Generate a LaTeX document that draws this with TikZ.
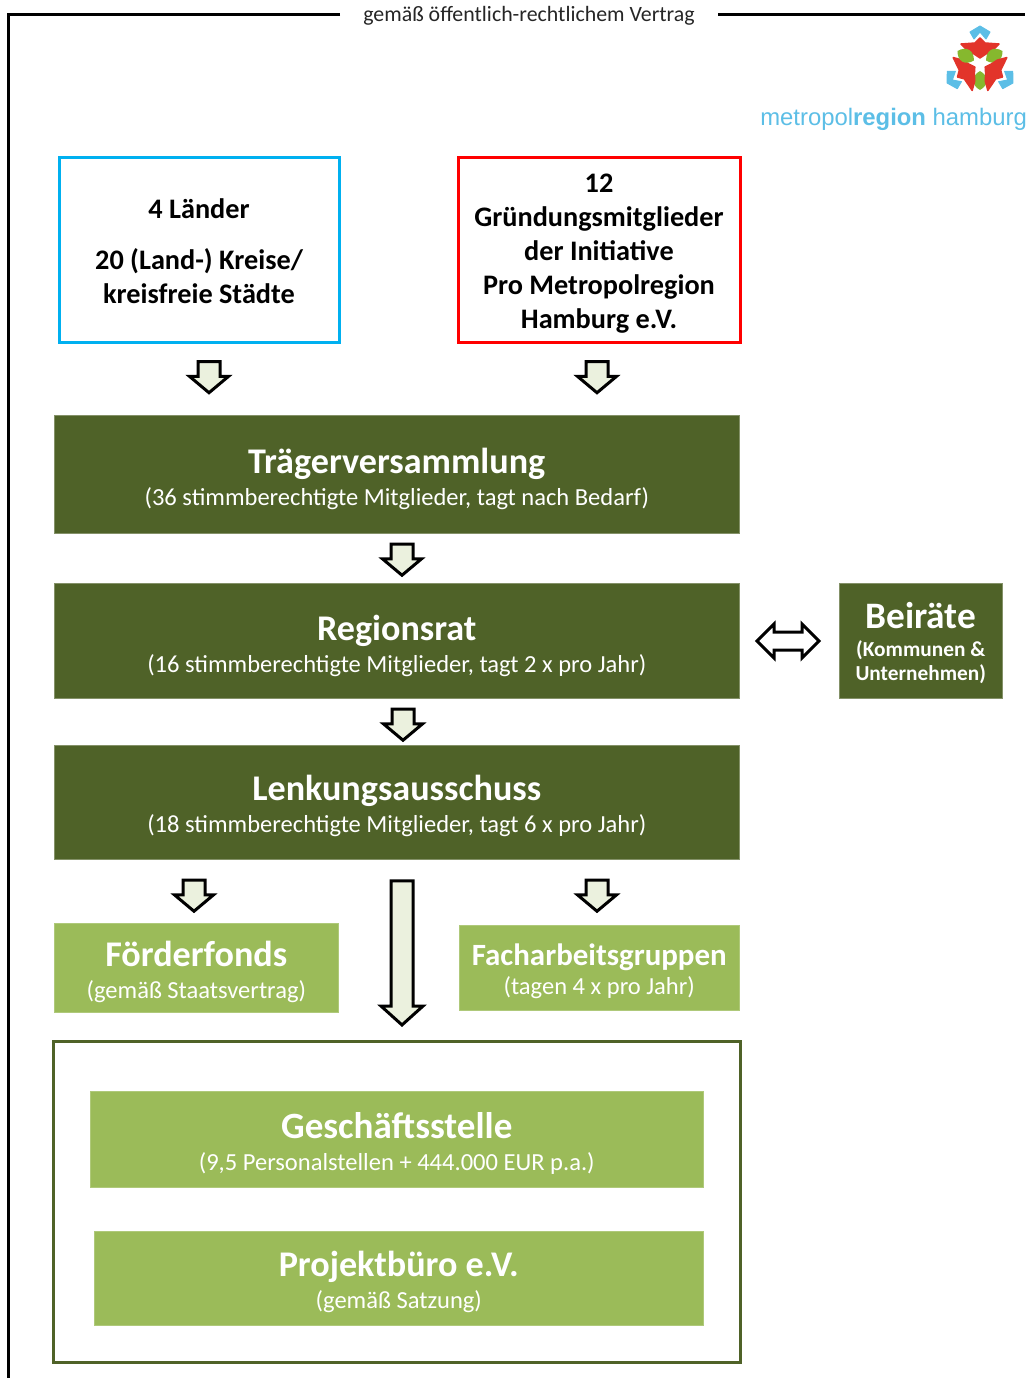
\documentclass[tikz,border=0pt]{standalone}
\usepackage{fontspec}
\setmainfont{Carlito}
\newfontfamily\logofont{Liberation Sans}
\usetikzlibrary{shapes.arrows}
\newdimen\pxu \pxu=0.75pt
\definecolor{dkgreen}{HTML}{4F6228}
\definecolor{ltgreen}{HTML}{9BBB59}
\definecolor{arrowfill}{HTML}{EBF1DE}
\definecolor{skyline}{HTML}{00B0F0}
\definecolor{redline}{HTML}{FF0000}
\definecolor{logoblue}{HTML}{5CBEE6}
\definecolor{logored}{HTML}{E2342A}
\definecolor{logogreen}{HTML}{86B82E}
\newcommand{\stk}[3]{\smash{\raisebox{-\dimexpr#1\pxu+0.7\pxu\relax}{\vbox{\baselineskip=#2\pxu\lineskiplimit=-100pt\lineskip=0pt\halign{\hfil##\hfil\cr #3}}}}}
\newcommand{\ttl}{\fontsize{27.1}{30}\selectfont\bfseries}
\newcommand{\sbt}{\fontsize{18.4}{20}\selectfont}
\newcommand{\bdy}{\fontsize{21.2}{24}\selectfont\bfseries}
\newcommand{\logounit}{%
  \filldraw[logoblue,line width=1\pxu,line join=round] (980,26) -- (990,32) -- (986,39) -- (980,32) -- (974,39) -- (970,32) -- cycle;
  \filldraw[logored,line width=1.5\pxu,line join=round] (980,38) -- (985,43) -- (999,44) -- (992,51) -- (986,54) -- (980,58) -- (974,54) -- (968,51) -- (961,44) -- (975,43) -- cycle;
  \fill[logogreen] (980,71) .. controls (971,76) and (971,85) .. (980,90) .. controls (989,85) and (989,76) .. (980,71) -- cycle;
}
\tikzset{
  x=0.75pt,y=-0.75pt,
  boxbase/.style={rectangle,anchor=north west,inner sep=0pt,outer sep=0pt,text=white,align=center},
  dark/.style={boxbase,fill=dkgreen,draw=dkgreen!70!white,line width=.5\pxu},
  light/.style={boxbase,fill=ltgreen,draw=ltgreen!80!white,line width=.5\pxu},
  framed/.style={boxbase,fill=white,text=black,line width=3\pxu},
  sz/.style n args={2}{minimum width=#1*0.75pt,minimum height=#2*0.75pt},
  down/.style n args={3}{single arrow,shape border rotate=270,draw=black,fill=arrowfill,line width=3\pxu,inner sep=9.5*0.75pt,
     minimum height=#1*0.75pt,minimum width=#2*0.75pt,single arrow head extend=#3*0.75pt,single arrow head indent=0pt},
  shortdown/.style={down={26}{36}{8.5},single arrow tip angle=100},
  longdown/.style={down={144}{40}{10},single arrow tip angle=96},
  both/.style={double arrow,draw=black,fill=white,line width=3\pxu,inner xsep=0pt,inner ysep=7.5*0.75pt,minimum height=62*0.75pt,minimum width=33*0.75pt,
     double arrow head extend=8*0.75pt,double arrow head indent=0pt,double arrow tip angle=90},
  rule/.style={line width=3\pxu,draw=black}
}
\begin{document}
\begin{tikzpicture}
\useasboundingbox (0,0) rectangle (1025,1378);
% outer contract frame
\coordinate (frameA) at (340,14);
\coordinate (frameB) at (8,14);
\coordinate (frameC) at (8,1378);
\coordinate (frameD) at (718,14);
\coordinate (frameE) at (1025,14);
\draw[rule] (frameA) -- (frameB) -- (frameC);
\draw[rule] (frameD) -- (frameE);
\node[inner sep=0pt,font=\fontsize{16.4}{18}\selectfont,text=black!85] (contract) at (529,16) {gemäß öffentlich-rechtlichem Vertrag};
% logo
\logounit
\begin{scope}[rotate around={120:(980,64)}]\logounit\end{scope}
\begin{scope}[rotate around={240:(980,64)}]\logounit\end{scope}
\node[inner sep=0pt,anchor=base west,text=logoblue,font=\logofont\fontsize{17.9}{20}\selectfont] (logotext) at (760,125) {metropol\textbf{region} hamburg};
% source boxes
\node[framed,draw=skyline,sz={280}{185}] (laender) at (59,157) {\stk{53}{34}{\bdy 4 Länder\cr\noalign{\vskip 17\pxu}\bdy 20 (Land-) Kreise/\cr\bdy kreisfreie Städte\cr}};
\node[framed,draw=redline,sz={282}{185}] (gruender) at (458,157) {\stk{78}{34}{\bdy 12\cr\bdy Gründungsmitglieder\cr\bdy der Initiative\cr\bdy Pro Metropolregion\cr\bdy Hamburg e.V.\cr}};
% dark boxes
\node[dark,sz={685.5}{118.5}] (traeger) at (54,415) {\stk{30.5}{32}{\ttl Trägerversammlung\cr\sbt (36 stimmberechtigte Mitglieder, tagt nach Bedarf)\cr}};
\node[dark,sz={685.5}{115.5}] (rat) at (54,583) {\stk{31}{32}{\ttl Regionsrat\cr\sbt (16 stimmberechtigte Mitglieder, tagt 2 x pro Jahr)\cr}};
\node[dark,sz={685.5}{114.5}] (lenkung) at (54,745) {\stk{29.5}{32}{\ttl Lenkungsausschuss\cr\sbt (18 stimmberechtigte Mitglieder, tagt 6 x pro Jahr)\cr}};
\node[dark,sz={163.5}{115.5}] (beirat) at (839,583) {\stk{39.5}{24}{\fontsize{28}{30}\selectfont\bfseries Beiräte\cr\noalign{\vskip 4\pxu}\fontsize{16}{18}\selectfont\bfseries (Kommunen \&\cr\fontsize{16}{18}\selectfont\bfseries Unternehmen)\cr}};
% light boxes
\node[light,sz={284.5}{89.5}] (foerder) at (54,923) {\stk{30}{32}{\ttl Förderfonds\cr\sbt (gemäß Staatsvertrag)\cr}};
\node[light,sz={280.5}{85.5}] (fach) at (459,925) {\stk{26}{29}{\fontsize{23.2}{24}\selectfont\bfseries Facharbeitsgruppen\cr\sbt (tagen 4 x pro Jahr)\cr}};
% office frame
\node[framed,draw=dkgreen,sz={687}{321}] (office) at (53,1041) {};
\node[light,sz={613.5}{96.5}] (gst) at (90,1091) {\stk{30.5}{32}{\fontsize{27.8}{30}\selectfont\bfseries Geschäftsstelle\cr\sbt (9,5 Personalstellen + 444.000 EUR p.a.)\cr}};
\node[light,sz={609.5}{94.5}] (pb) at (94,1231) {\stk{29.5}{32}{\ttl Projektbüro e.V.\cr\sbt (gemäß Satzung)\cr}};
% block arrows
\node[shortdown] (a1) at (209,372.5) {};
\node[shortdown] (a2) at (597,372.5) {};
\node[shortdown] (a3) at (402,555) {};
\node[shortdown] (a4) at (403,720) {};
\node[shortdown] (a5) at (194,891) {};
\node[shortdown] (a6) at (597,891) {};
\node[longdown] (a7) at (402,948) {};
\node[both] (a8) at (788,641) {};
\end{tikzpicture}
\end{document}
